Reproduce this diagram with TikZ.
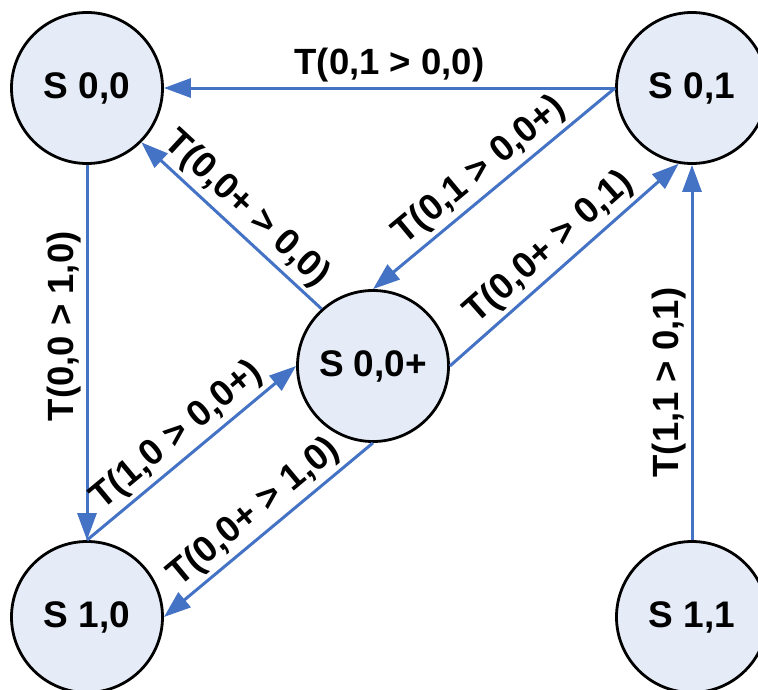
\documentclass[tikz,border=0pt]{standalone}
\usepackage{fontspec}
\setmainfont{Liberation Sans}
\usetikzlibrary{arrows.meta}
\definecolor{linkblue}{RGB}{68,114,196}
\definecolor{statefill}{RGB}{230,236,247}
\begin{document}
\begin{tikzpicture}
	[x=1pt, y=-1pt,
	 state/.style={circle, draw=black, line width=2.8pt, fill=statefill, minimum size=151pt, inner sep=0pt, font=\fontsize{37}{44}\selectfont\bfseries},
	 trans/.style={draw=linkblue, line width=3pt, -{Triangle[length=27pt,width=19pt]}},
	 lbl/.style={font=\fontsize{36.5}{43}\selectfont\bfseries, inner sep=4pt}]
	\clip (0,0) rectangle (758,689);
	\node [state] (s00) at (87,88) {S 0,0};
	\node [state] (s01) at (692,88) {S 0,1};
	\node [state] (s0p) at (373,366) {S 0,0+};
	\node [state] (s10) at (87,617) {S 1,0};
	\node [state] (s11) at (692,617) {S 1,1};

	\draw [trans] (s01.west) -- node [lbl, above, midway] {T(0,1 > 0,0)} (s00.east);
	\draw [trans] (s00.south) -- node [lbl, rotate=90, anchor=south, pos=0.43] {T(0,0 > 1,0)} (s10.north);
	\draw [trans] (s0p.132) -- node [lbl, above, sloped, midway] {T(0,0+ > 0,0)} (s00.-45);
	\draw [trans] (s01.west) -- node [lbl, above, sloped, midway] {T(0,1 > 0,0+)} (s0p.north);
	\draw [trans] (s0p.east) -- node [lbl, above, sloped, midway] {T(0,0+ > 0,1)} (s01.-100);
	\draw [trans] (s10.north) -- node [lbl, above, sloped, midway] {T(1,0 > 0,0+)} (s0p.west);
	\draw [trans] (s0p.south) -- node [lbl, above, sloped, midway] {T(0,0+ > 1,0)} (s10.east);
	\draw [trans] (s11.north) -- node [lbl, above, sloped, pos=0.42] {T(1,1 > 0,1)} (s01.south);
\end{tikzpicture}
\end{document}
